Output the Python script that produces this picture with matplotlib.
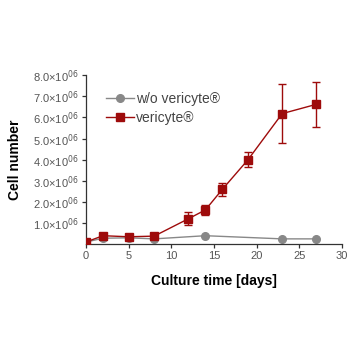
import matplotlib
matplotlib.use("Agg")
import matplotlib.pyplot as plt

plt.rcParams['font.family'] = ['Liberation Sans', 'DejaVu Sans']

days_wo = [0, 2, 5, 8, 14, 23, 27]
cells_wo = [0.1, 0.28, 0.3, 0.25, 0.4, 0.25, 0.25]

days_v = [0, 2, 5, 8, 12, 14, 16, 19, 23, 27]
cells_v = [0.1, 0.4, 0.35, 0.38, 1.2, 1.62, 2.6, 4.0, 6.18, 6.62]
err_v = [0.0, 0.05, 0.05, 0.05, 0.3, 0.25, 0.3, 0.35, 1.4, 1.05]

yticks = [1, 2, 3, 4, 5, 6, 7, 8]
xticks = [0, 5, 10, 15, 20, 25, 30]

fig = plt.figure(figsize=(3.58, 3.58), dpi=100)
ax = fig.add_axes([0.240, 0.318, 0.715, 0.472])

l1, = ax.plot(days_wo, cells_wo, '-o', color='#888888', ms=5.5, lw=1.0,
              label='w/o vericyte®', zorder=2)
eb = ax.errorbar(days_v, cells_v, yerr=err_v, fmt='-s', color='#9e0b0b', ms=6,
                 lw=1.0, elinewidth=1.0, capsize=3, capthick=1.0,
                 label='vericyte®', zorder=3)

ax.set_xlim(0, 30)
ax.set_ylim(0, 8)
ax.set_xticks(xticks)
ax.set_yticks(yticks)
ax.set_yticklabels([f"{v:.1f}×10$^{{06}}$" for v in yticks])
for s in ['top', 'right']:
    ax.spines[s].set_visible(False)
for s in ['left', 'bottom']:
    ax.spines[s].set_color('#333333')
    ax.spines[s].set_linewidth(0.9)
ax.tick_params(axis='both', labelsize=8, colors='#333333', labelcolor='#555555',
               length=3, width=0.9, pad=2)

ax.set_xlabel('Culture time [days]', fontsize=10, fontweight='bold', labelpad=9)
ax.set_ylabel('Cell number', fontsize=10, fontweight='bold', labelpad=8)

leg = ax.legend([l1, eb[0]], ['w/o vericyte®', 'vericyte®'],
                loc='upper left', bbox_to_anchor=(0.04, 0.96), frameon=False,
                fontsize=10, handlelength=2.0, handletextpad=0.2,
                labelspacing=0.4, borderaxespad=0.3)
for t in leg.get_texts():
    t.set_color('#444444')

fig.savefig('out.png', dpi=100)
